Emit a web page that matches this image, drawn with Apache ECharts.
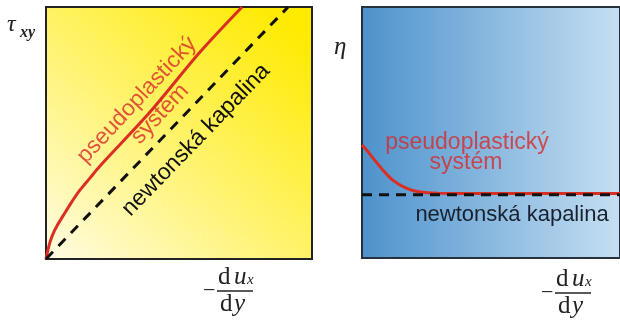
<!DOCTYPE html>
<html>
<head>
<meta charset="utf-8">
<script src="https://cdn.jsdelivr.net/npm/echarts@6/dist/echarts.min.js"></script>
<style>html,body{margin:0;padding:0;background:#fff}#c{width:620px;height:322px}</style>
</head>
<body>
<div id="c"></div>
<script>
// Left panel: shear stress vs shear rate
const leftRedX = [0, 0.75, 1.5, 2.6, 4.1, 6.4, 9.4, 12.8, 16.5, 20.3, 39.1, 57.9, 73.7];
const leftRedY = [0, 3.6, 6.7, 9.9, 13.1, 17.1, 22.2, 27.4, 32.1, 36.9, 58.3, 82.1, 100];
const leftNewtonX = [0, 91];
const leftNewtonY = [0, 100];
// Right panel: viscosity vs shear rate
const rightRedX = [0, 1.8, 4.3, 8.0, 11.8, 16.9, 21.9, 29.4, 52.1, 100];
const rightRedY = [45, 43.0, 39.8, 35.1, 31.1, 27.9, 26.4, 25.8, 25.7, 25.7];
const rightNewtonX = [0, 100];
const rightNewtonY = [25.2, 25.2];

const leftLabels = ['pseudoplastický', 'systém', 'newtonská kapalina'];
const rightLabels = ['pseudoplastický', 'systém', 'newtonská kapalina'];

const zip = (xs, ys) => xs.map((x, i) => [x, ys[i]]);
const chart = echarts.init(document.getElementById('c'), null, {renderer: 'canvas'});
const G = echarts.graphic;
const axisBase = {min: 0, max: 100, axisLine: {show: false}, axisTick: {show: false}, axisLabel: {show: false}, splitLine: {show: false}};
const deg = d => d * Math.PI / 180;
const serif = '"Liberation Serif", "DejaVu Serif", serif';
const sans = 'Arial, "Liberation Sans", sans-serif';
const redText = 'rgba(215,40,40,0.78)';

function fraction(x, y) {
  // x: left of minus sign, y: fraction bar
  return [
    {type: 'text', x: x, y: y, style: {text: '−', font: '22px ' + serif, fill: '#222', verticalAlign: 'middle'}},
    {type: 'text', x: x + 15, y: y - 1, style: {text: 'd', font: '25px ' + serif, fill: '#222', verticalAlign: 'bottom'}},
    {type: 'text', x: x + 31, y: y - 1, style: {text: 'u', font: 'italic 25px ' + serif, fill: '#222', verticalAlign: 'bottom'}},
    {type: 'text', x: x + 44, y: y - 3, style: {text: 'x', font: 'italic 15px ' + serif, fill: '#222', verticalAlign: 'bottom'}},
    {type: 'line', shape: {x1: x + 14, y1: y, x2: x + 50, y2: y}, style: {stroke: '#222', lineWidth: 1.5}},
    {type: 'text', x: x + 17, y: y + 1, style: {text: 'd', font: '25px ' + serif, fill: '#222', verticalAlign: 'top'}},
    {type: 'text', x: x + 31, y: y + 1, style: {text: 'y', font: 'italic 25px ' + serif, fill: '#222', verticalAlign: 'top'}}
  ];
}

const option = {
  animation: false,
  backgroundColor: '#fff',
  grid: [
    {left: 46, top: 7, width: 266, height: 252, show: true, borderColor: '#222', borderWidth: 2,
     backgroundColor: new G.LinearGradient(0, 1, 0.85, 0, [
       {offset: 0, color: '#fffce4'}, {offset: 0.45, color: '#fff47a'}, {offset: 1, color: '#ffea00'}])},
    {left: 362, top: 7, width: 265, height: 251, show: true, borderColor: '#28323c', borderWidth: 2,
     backgroundColor: new G.LinearGradient(0, 0, 1, 0, [
       {offset: 0, color: '#4d92cc'}, {offset: 1, color: '#c6dff2'}])}
  ],
  xAxis: [Object.assign({type: 'value', gridIndex: 0}, axisBase), Object.assign({type: 'value', gridIndex: 1}, axisBase)],
  yAxis: [Object.assign({type: 'value', gridIndex: 0}, axisBase), Object.assign({type: 'value', gridIndex: 1}, axisBase)],
  series: [
    {type: 'line', xAxisIndex: 0, yAxisIndex: 0, data: zip(leftRedX, leftRedY), smooth: 0.3, symbol: 'none',
     lineStyle: {color: '#dc2f23', width: 3}, z: 3},
    {type: 'line', xAxisIndex: 0, yAxisIndex: 0, data: zip(leftNewtonX, leftNewtonY), symbol: 'none',
     lineStyle: {color: '#111', width: 3, type: [10, 8]}, z: 3},
    {type: 'line', xAxisIndex: 1, yAxisIndex: 1, data: zip(rightRedX, rightRedY), smooth: 0.3, symbol: 'none',
     lineStyle: {color: '#dc2f23', width: 3}, z: 3},
    {type: 'line', xAxisIndex: 1, yAxisIndex: 1, data: zip(rightNewtonX, rightNewtonY), symbol: 'none',
     lineStyle: {color: '#111', width: 3, type: [10, 7]}, z: 4}
  ],
  graphic: [
    // left in-plot labels
    {type: 'text', x: 137, y: 100, rotation: deg(47), z: 10,
     style: {text: leftLabels[0], font: '23px ' + sans, fill: redText, align: 'center', verticalAlign: 'middle'}},
    {type: 'text', x: 160, y: 114, rotation: deg(47), z: 10,
     style: {text: leftLabels[1], font: '23px ' + sans, fill: redText, align: 'center', verticalAlign: 'middle'}},
    {type: 'text', x: 196, y: 140, rotation: deg(46), z: 10,
     style: {text: leftLabels[2], font: '23px ' + sans, fill: '#111', align: 'center', verticalAlign: 'middle'}},
    // right in-plot labels
    {type: 'text', x: 467, y: 143, z: 10,
     style: {text: rightLabels[0], font: '23px ' + sans, fill: redText, align: 'center', verticalAlign: 'middle'}},
    {type: 'text', x: 466, y: 163, z: 10,
     style: {text: rightLabels[1], font: '23px ' + sans, fill: redText, align: 'center', verticalAlign: 'middle'}},
    {type: 'text', x: 512, y: 215, z: 10,
     style: {text: rightLabels[2], font: '22px ' + sans, fill: '#17222e', align: 'center', verticalAlign: 'middle'}},
    // y axis names
    {type: 'text', x: 7, y: 37, style: {text: 'τ', font: 'italic 24px ' + serif, fill: '#222', verticalAlign: 'bottom'}},
    {type: 'text', x: 20, y: 41, style: {text: 'xy', font: 'italic bold 16px ' + serif, fill: '#222', verticalAlign: 'bottom'}},
    {type: 'text', x: 334, y: 60, style: {text: 'η', font: 'italic 25px ' + serif, fill: '#222', verticalAlign: 'bottom'}}
  ].concat(fraction(203, 291), fraction(541, 293))
};
chart.setOption(option);
</script>
</body>
</html>
